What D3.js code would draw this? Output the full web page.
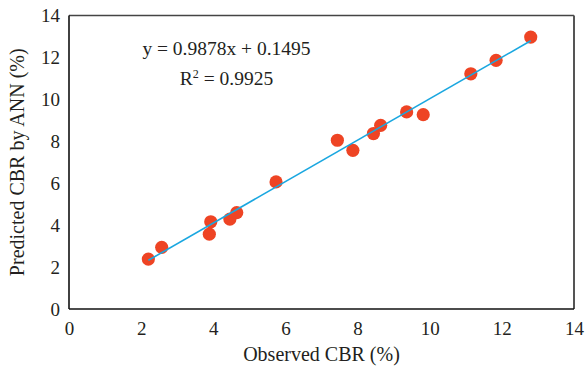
<!DOCTYPE html>
<html><head><meta charset="utf-8">
<script src="https://cdn.jsdelivr.net/npm/d3@7"></script>
<style>
html,body{margin:0;padding:0;background:#fff;}
svg text{font-family:'Liberation Serif','Times New Roman','DejaVu Serif',serif !important;fill:#231f20;}
</style></head>
<body><svg id="c" width="585" height="370"></svg>
<script>
const observed  = [2.20, 2.57, 3.89, 3.93, 4.46, 4.65, 5.74, 7.44, 7.87, 8.44, 8.64, 9.36, 9.82, 11.14, 11.84, 12.80];
const predicted = [2.38, 2.94, 3.57, 4.16, 4.29, 4.60, 6.06, 8.05, 7.57, 8.37, 8.76, 9.40, 9.27, 11.22, 11.86, 12.97];
const xTicks = [0, 2, 4, 6, 8, 10, 12, 14];
const yTicks = [0, 2, 4, 6, 8, 10, 12, 14];
const slope = 0.9878, intercept = 0.1495;
const eqLabel = "y = 0.9878x + 0.1495";
const r2Label = "0.9925";
const xTitle = "Observed CBR (%)";
const yTitle = "Predicted CBR by ANN (%)";

const FONT = "'Liberation Serif','Times New Roman',serif";
const svg = d3.select("#c");
const L = 69, R = 574, T = 15.5, B = 309;
const x = d3.scaleLinear().domain([0, 14]).range([L, R]);
const y = d3.scaleLinear().domain([0, 14]).range([B, T]);

// frame
svg.append("line").attr("x1", L).attr("x2", R).attr("y1", T).attr("y2", T).attr("stroke", "#444").attr("stroke-width", 1.6);
svg.append("line").attr("x1", R).attr("x2", R).attr("y1", T).attr("y2", B).attr("stroke", "#555").attr("stroke-width", 2);

const xAxis = svg.append("g").attr("transform", `translate(0,${B})`)
  .call(d3.axisBottom(x).tickValues(xTicks).tickSize(0).tickPadding(13).tickFormat(d3.format("d")));
xAxis.attr("font-family", null).attr("font-size", null);
xAxis.select(".domain").attr("stroke", "#111").attr("stroke-width", 1.6).attr("d", `M${L},0H${R}`);
xAxis.selectAll("text").style("font-family", FONT).style("font-size", "19px");

const yAxis = svg.append("g").attr("transform", `translate(${L},0)`)
  .call(d3.axisLeft(y).tickValues(yTicks).tickSize(0).tickPadding(9).tickFormat(d3.format("d")));
yAxis.attr("font-family", null).attr("font-size", null);
yAxis.select(".domain").attr("stroke", "#111").attr("stroke-width", 1.6).attr("d", `M0,${T}V${B}`);
yAxis.selectAll("text").style("font-family", FONT).style("font-size", "19px");

// points
svg.append("g").selectAll("circle").data(observed).join("circle")
  .attr("cx", d => x(d)).attr("cy", (d, i) => y(predicted[i]))
  .attr("r", 6.6).attr("fill", "#ee4424");

// trendline
const xmin = d3.min(observed), xmax = d3.max(observed);
svg.append("line")
  .attr("x1", x(xmin)).attr("y1", y(slope * xmin + intercept))
  .attr("x2", x(xmax)).attr("y2", y(slope * xmax + intercept))
  .attr("stroke", "#1aa7e0").attr("stroke-width", 1.6);

// equation
svg.append("text").attr("x", 226.5).attr("y", 55).attr("text-anchor", "middle")
  .style("font-family", FONT).style("font-size", "19.5px").text(eqLabel);
const r2 = svg.append("text").attr("x", 226.5).attr("y", 85).attr("text-anchor", "middle")
  .style("font-family", FONT).style("font-size", "19.5px");
r2.append("tspan").text("R");
r2.append("tspan").attr("dy", -7).style("font-size", "12px").text("2");
r2.append("tspan").attr("dy", 7).text(" = " + r2Label);

// titles
svg.append("text").attr("x", (L + R) / 2).attr("y", 361).attr("text-anchor", "middle")
  .style("font-family", FONT).style("font-size", "20px").text(xTitle);
svg.append("text").attr("transform", `translate(24,${(T + B) / 2}) rotate(-90)`)
  .attr("text-anchor", "middle").style("font-family", FONT).style("font-size", "20px").text(yTitle);
</script></body></html>
